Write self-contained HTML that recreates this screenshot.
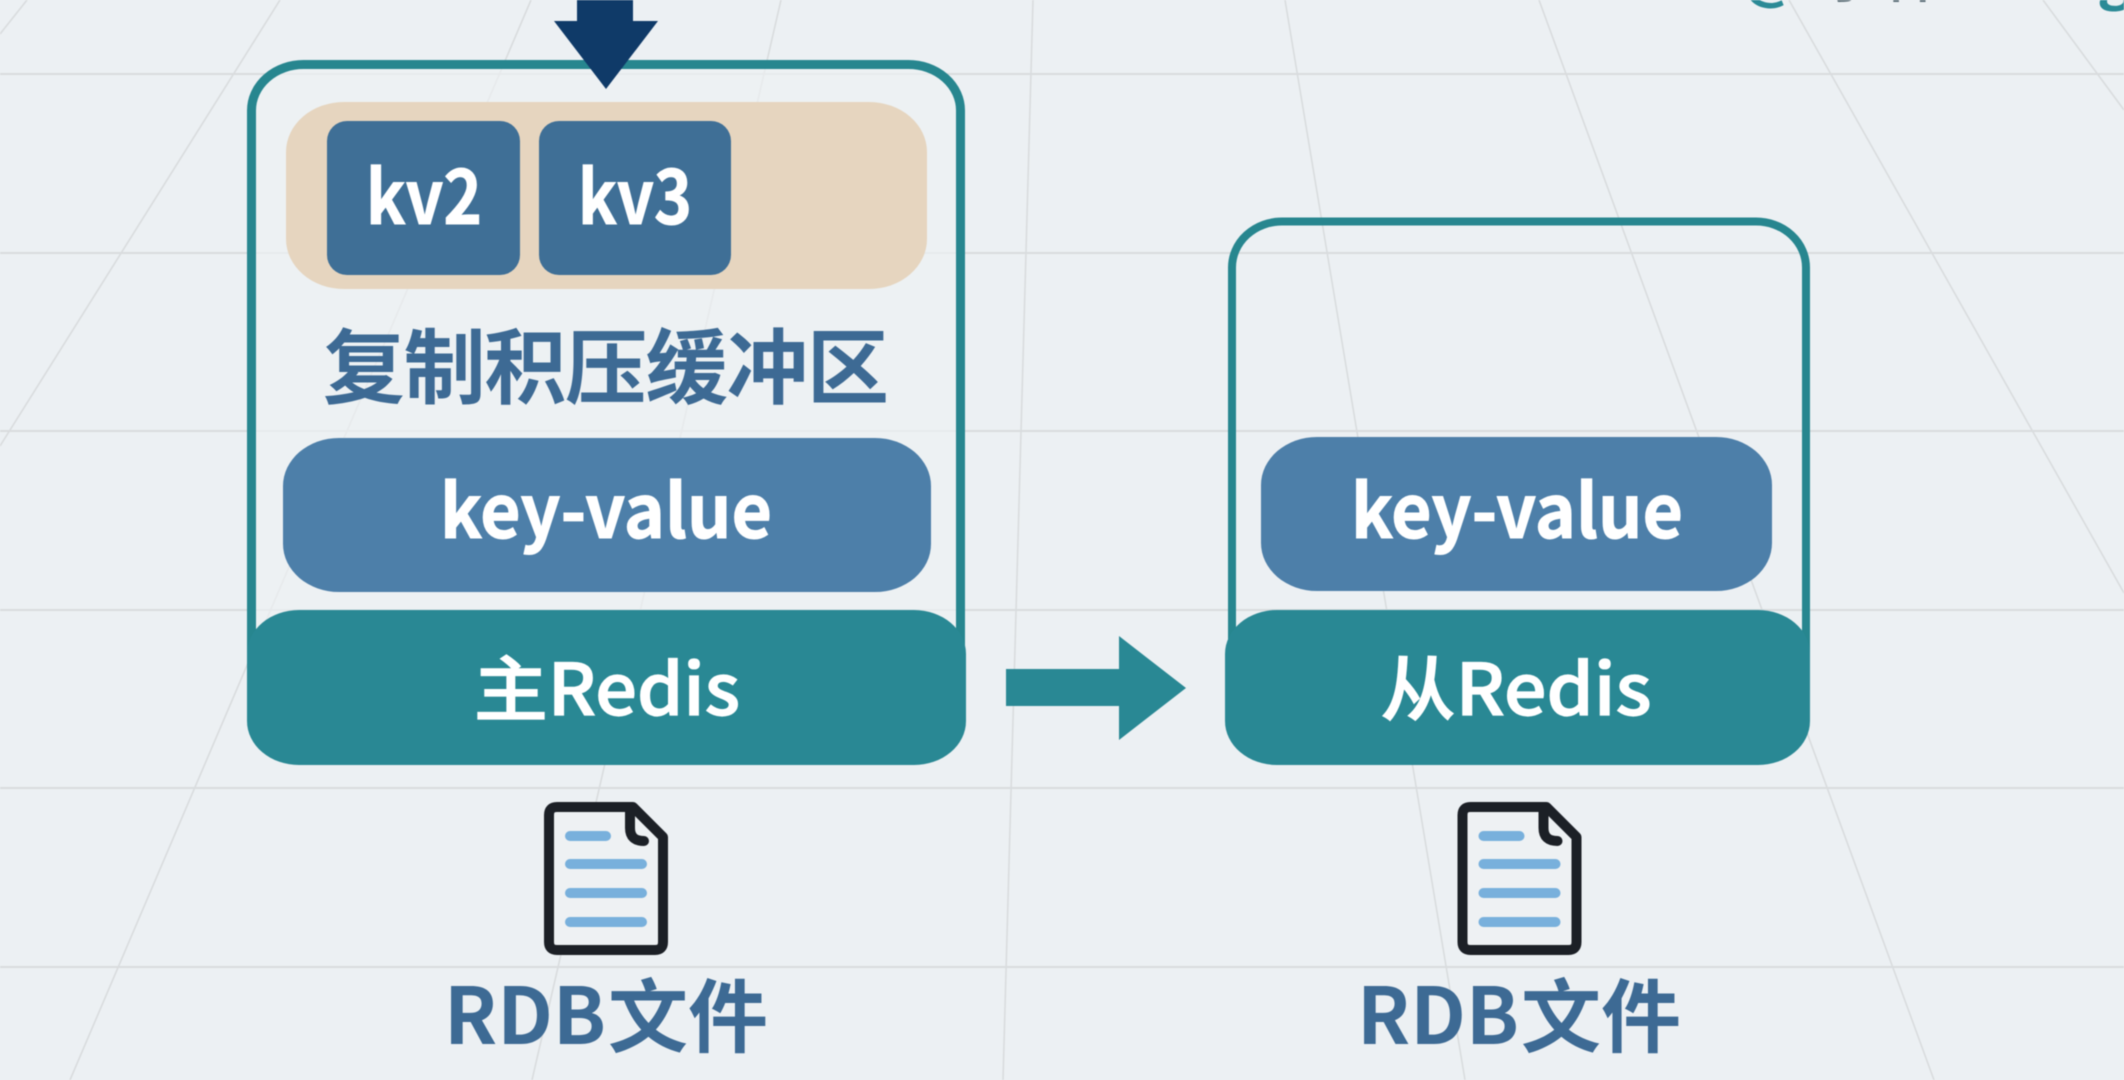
<!DOCTYPE html>
<html lang="zh"><head><meta charset="utf-8"><title>Redis</title>
<style>
html,body{margin:0;padding:0;background:#ecf0f3;width:2124px;height:1080px;overflow:hidden}
svg{display:block;filter:blur(0.6px)}
text{font-family:"Noto Sans CJK SC","Liberation Sans",sans-serif}
</style></head>
<body>
<svg width="2124" height="1080" viewBox="0 0 2124 1080" xmlns="http://www.w3.org/2000/svg">
<rect width="2124" height="1080" fill="#ecf0f3"/>
<g stroke="#d9dcde" stroke-width="2" fill="none">
<path d="M0 74H2124M0 253H2124M0 431H2124M0 610H2124M0 788H2124M0 967H2124"/>
<path stroke-width="1.6" d="M280 0L0 446M27 0L0 34M531 0L70 1080M781 0L532 1080M1033 0L1003 1080M1285 0L1465 1080M1539 0L1934 1080M1789 0L2124 593M2043 0L2124 110"/>
</g>

<text x="1772" y="-3" font-size="60" fill="#2b8a96" text-anchor="middle" font-weight="700">@</text>
<text x="1880" y="-3" font-size="60" fill="#5d6f78" text-anchor="middle" font-weight="500">小林</text>
<text x="2115" y="-3" font-size="60" fill="#2b8a96" text-anchor="middle" font-weight="700">g</text>

<!-- master -->
<rect x="251.5" y="64.5" width="709" height="640" rx="52" ry="46" fill="#eef1f3" fill-opacity="0.65" stroke="#27868f" stroke-width="9"/>
<rect x="286" y="102" width="641" height="187" rx="58" ry="50" fill="#e6d5bf"/>
<rect x="327" y="121" width="193" height="154" rx="20" fill="#3f6f96"/>
<rect x="539" y="121" width="192" height="154" rx="20" fill="#3f6f96"/>
<text x="424" y="224" font-size="74" font-weight="700" fill="#fff" stroke="#fff" stroke-width="1" text-anchor="middle" textLength="116" lengthAdjust="spacingAndGlyphs">kv2</text>
<text x="635" y="224" font-size="74" font-weight="700" fill="#fff" stroke="#fff" stroke-width="1" text-anchor="middle" textLength="114" lengthAdjust="spacingAndGlyphs">kv3</text>
<text x="606" y="397" font-size="82" font-weight="700" fill="#3d6a94" text-anchor="middle" textLength="566" lengthAdjust="spacing">复制积压缓冲区</text>
<rect x="283" y="438" width="648" height="154" rx="56" ry="48" fill="#4d7fa9"/>
<text x="606" y="538" font-size="74" font-weight="700" fill="#fff" stroke="#fff" stroke-width="1" text-anchor="middle" textLength="332" lengthAdjust="spacingAndGlyphs">key-value</text>
<rect x="247" y="610" width="719" height="155" rx="52" ry="44" fill="#298894"/>
<text x="607" y="715" font-size="71" font-weight="500" fill="#fff" stroke="#fff" stroke-width="1.2" text-anchor="middle" textLength="266" lengthAdjust="spacingAndGlyphs">主Redis</text>

<!-- top arrow -->
<path d="M577 0H633V21H658L606 89L554 21H577Z" fill="#0f3a68"/>
<!-- connector arrow -->
<path d="M1006 669H1119V636L1186 688L1119 740V706H1006Z" fill="#298894"/>

<!-- slave -->
<rect x="1232" y="221.500" width="574" height="480" rx="50" ry="46" fill="none" stroke="#27868f" stroke-width="8"/>
<rect x="1261" y="437" width="511" height="154" rx="56" ry="48" fill="#4d7fa9"/>
<text x="1517" y="538" font-size="74" font-weight="700" fill="#fff" stroke="#fff" stroke-width="1" text-anchor="middle" textLength="332" lengthAdjust="spacingAndGlyphs">key-value</text>
<rect x="1225" y="610" width="585" height="155" rx="52" ry="44" fill="#298894"/>
<text x="1516" y="715" font-size="71" font-weight="500" fill="#fff" stroke="#fff" stroke-width="1.2" text-anchor="middle" textLength="271" lengthAdjust="spacingAndGlyphs">从Redis</text>

<!-- doc icons -->
<g>
<path d="M557 807H633L663 837V942Q663 950 655 950H557Q549 950 549 942V815Q549 807 557 807Z" fill="#eef1f3" stroke="#1c2026" stroke-width="10" stroke-linejoin="round"/>
<path d="M630 809V828Q630 841 644 841" fill="none" stroke="#1c2026" stroke-width="10" stroke-linecap="round"/>
<g stroke="#78b0dc" stroke-width="10" stroke-linecap="round">
<path d="M570 836H606M570 864H642M570 893H642M570 922H642"/>
</g>
</g>
<g transform="translate(913.5 0)">
<path d="M557 807H633L663 837V942Q663 950 655 950H557Q549 950 549 942V815Q549 807 557 807Z" fill="#eef1f3" stroke="#1c2026" stroke-width="10" stroke-linejoin="round"/>
<path d="M630 809V828Q630 841 644 841" fill="none" stroke="#1c2026" stroke-width="10" stroke-linecap="round"/>
<g stroke="#78b0dc" stroke-width="10" stroke-linecap="round">
<path d="M570 836H606M570 864H642M570 893H642M570 922H642"/>
</g>
</g>
<text x="444" y="1044" font-size="78" font-weight="700" fill="#3d6a94" textLength="162" lengthAdjust="spacingAndGlyphs">RDB</text>
<text x="688" y="1046" font-size="80" font-weight="700" fill="#3d6a94" text-anchor="middle">文件</text>
<text x="1357" y="1044" font-size="78" font-weight="700" fill="#3d6a94" textLength="162" lengthAdjust="spacingAndGlyphs">RDB</text>
<text x="1601" y="1046" font-size="80" font-weight="700" fill="#3d6a94" text-anchor="middle">文件</text>
</svg>
</body></html>
